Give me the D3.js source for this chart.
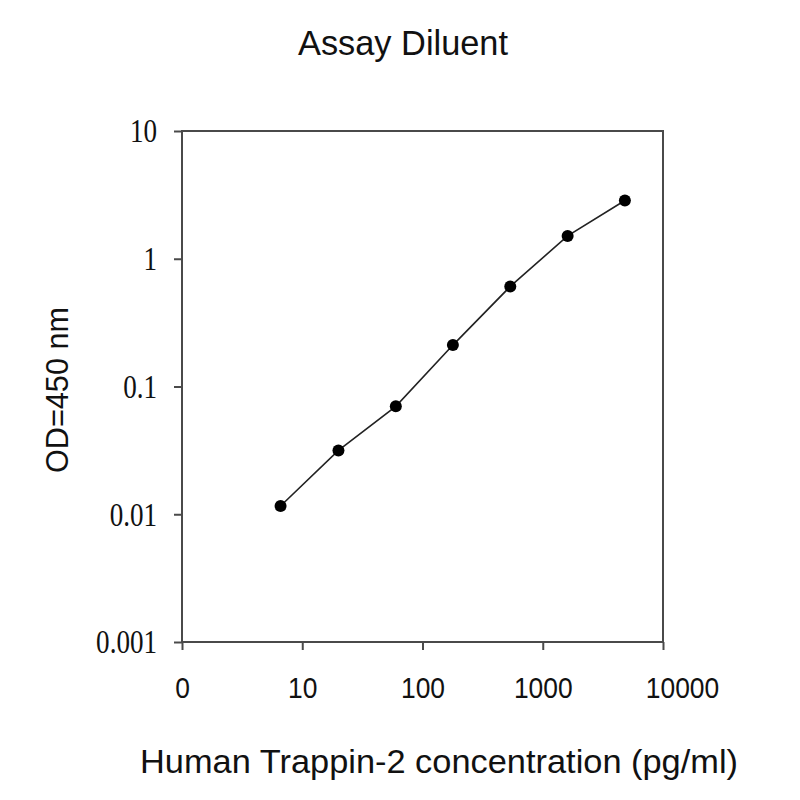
<!DOCTYPE html>
<html lang="en">
<head>
<meta charset="utf-8">
<title>Assay Diluent</title>
<script src="https://d3js.org/d3.v7.min.js"></script>
<style>
body { margin: 0; background: #fff; }
.sans { font-family: "Liberation Sans", Arial, sans-serif; fill: #111; }
.serif { font-family: "Liberation Serif", "Times New Roman", serif; fill: #111; }
</style>
</head>
<body>
<svg id="chart"></svg>
<script>
// standard curve, 3-fold dilutions
var conc = [6.6, 20, 60, 179, 537, 1610, 4820];
var od = [0.0116, 0.0316, 0.070, 0.211, 0.607, 1.51, 2.86];

var xTicks = [1, 10, 100, 1000, 10000];
var xTickLabels = ["0", "10", "100", "1000", "10000"];
var yTicks = [0.001, 0.01, 0.1, 1, 10];
var yTickLabels = ["0.001", "0.01", "0.1", "1", "10"];

var width = 800,
    height = 800;
// plot box (note: "top" is taken by window.top)
var plotLeft = 182, plotRight = 663, plotTop = 131, plotBottom = 642;

var svg = d3.select("#chart")
    .attr("width", width)
    .attr("height", height);

var x = d3.scaleLog().domain([1, 10000]).range([plotLeft, plotRight]);
var y = d3.scaleLog().domain([0.001, 10]).range([plotBottom, plotTop]);

var axisColor = "#4a4a4a";

// the original text is a bit narrower than the fonts we have
function squeeze(sel, f) {
    sel.each(function() {
        var len = this.getComputedTextLength();
        d3.select(this)
            .attr("textLength", len * f)
            .attr("lengthAdjust", "spacingAndGlyphs");
    });
}

// frame
svg.append("rect")
    .attr("x", plotLeft).attr("y", plotTop)
    .attr("width", plotRight - plotLeft).attr("height", plotBottom - plotTop)
    .attr("fill", "none")
    .attr("stroke", axisColor)
    .attr("stroke-width", 2);

// x axis
var xAxis = svg.append("g")
    .attr("transform", "translate(0," + plotBottom + ")")
    .call(d3.axisBottom(x).tickValues(xTicks).tickSize(8)
        .tickFormat(function(d, i) { return xTickLabels[i]; }));
xAxis.select(".domain").remove();
xAxis.selectAll("line").attr("stroke", axisColor).attr("stroke-width", 2);
xAxis.selectAll("text")
    .attr("class", "sans")
    .attr("font-size", 30)
    .attr("y", 56)
    .attr("dy", 0)
    .attr("dx", function(d, i) { return i === xTicks.length - 1 ? 19 : 0; })
    .call(squeeze, 0.88);

// y axis
var yAxis = svg.append("g")
    .attr("transform", "translate(" + plotLeft + ",0)")
    .call(d3.axisLeft(y).tickValues(yTicks).tickSize(8)
        .tickFormat(function(d, i) { return yTickLabels[i]; }));
yAxis.select(".domain").remove();
yAxis.selectAll("line").attr("stroke", axisColor).attr("stroke-width", 2);
yAxis.selectAll("text")
    .attr("class", "serif")
    .attr("font-size", 33)
    .attr("x", -25)
    .attr("dy", "0.33em")
    .call(squeeze, 0.82);

// line + points
var line = d3.line()
    .x(function(d, i) { return x(conc[i]); })
    .y(function(d) { return y(d); });

svg.append("path")
    .datum(od)
    .attr("d", line)
    .attr("fill", "none")
    .attr("stroke", "#222")
    .attr("stroke-width", 1.6);

svg.selectAll("circle")
    .data(od)
    .enter().append("circle")
    .attr("cx", function(d, i) { return x(conc[i]); })
    .attr("cy", function(d) { return y(d); })
    .attr("r", 6)
    .attr("fill", "#000");

// titles
svg.append("text")
    .attr("class", "sans")
    .attr("x", 403).attr("y", 55)
    .attr("text-anchor", "middle")
    .attr("font-size", 35)
    .attr("textLength", 210).attr("lengthAdjust", "spacingAndGlyphs")
    .text("Assay Diluent");

svg.append("text")
    .attr("class", "sans")
    .attr("x", 439).attr("y", 773)
    .attr("text-anchor", "middle")
    .attr("font-size", 34)
    .attr("textLength", 598).attr("lengthAdjust", "spacingAndGlyphs")
    .text("Human Trappin-2 concentration (pg/ml)");

svg.append("text")
    .attr("class", "sans")
    .attr("transform", "translate(68,390) rotate(-90)")
    .attr("text-anchor", "middle")
    .attr("font-size", 31)
    .attr("textLength", 166).attr("lengthAdjust", "spacingAndGlyphs")
    .text("OD=450 nm");
</script>
</body>
</html>
